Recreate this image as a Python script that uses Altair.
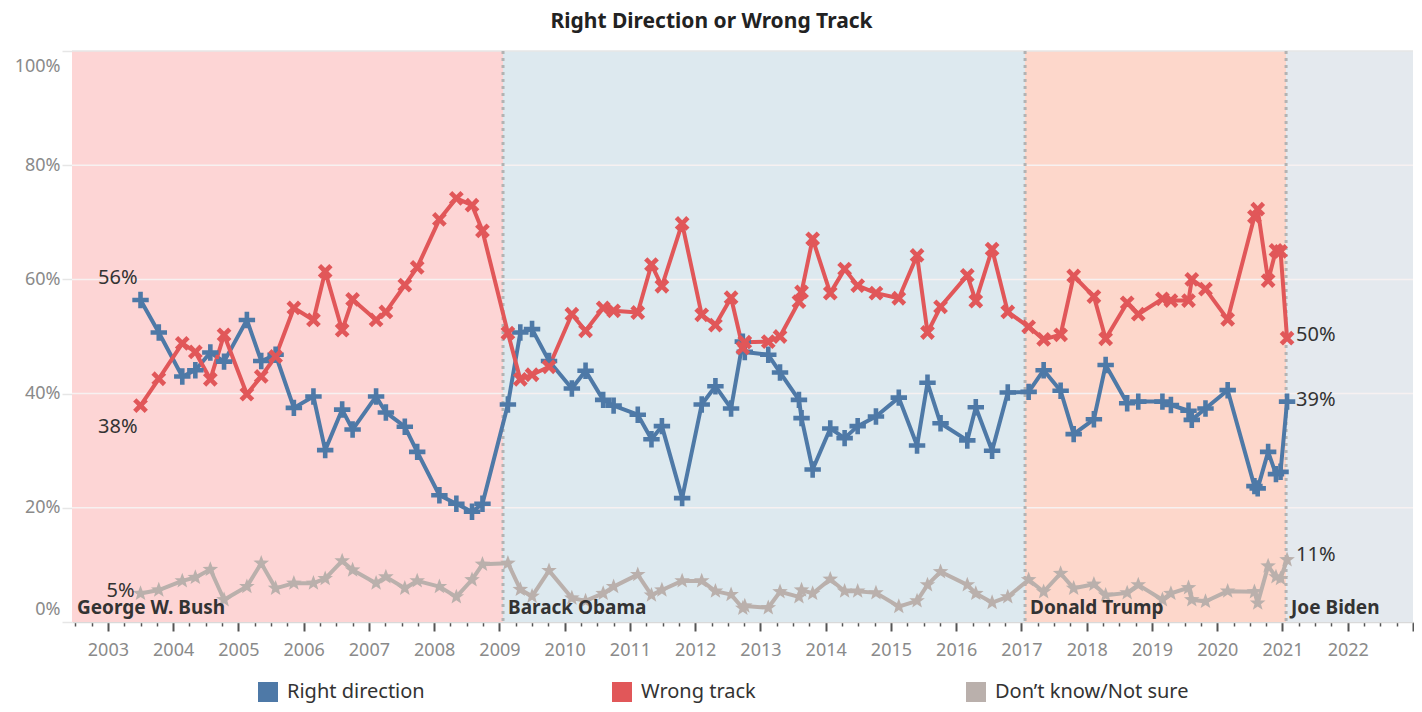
import altair as alt
import pandas as pd

# ---------------- data ----------------
dates = [
    2003.50, 2003.78, 2004.14, 2004.34, 2004.57, 2004.78, 2005.13, 2005.35, 2005.57, 2005.85,
    2006.15, 2006.33, 2006.59, 2006.75, 2007.11, 2007.26, 2007.55, 2007.74, 2008.08, 2008.34,
    2008.58, 2008.74,
    2009.13, 2009.32, 2009.50, 2009.76, 2010.11, 2010.32, 2010.59, 2010.75, 2011.12, 2011.33,
    2011.49, 2011.80, 2012.10, 2012.31, 2012.55, 2012.73, 2012.76, 2013.12, 2013.30, 2013.59,
    2013.63, 2013.80, 2014.07, 2014.29, 2014.49, 2014.77, 2015.12, 2015.40, 2015.56, 2015.76,
    2016.17, 2016.30, 2016.55, 2016.79,
    2017.11, 2017.34, 2017.60, 2017.80, 2018.11, 2018.29, 2018.62, 2018.79, 2019.16, 2019.29,
    2019.56, 2019.61, 2019.82, 2020.16, 2020.57, 2020.62, 2020.78, 2020.90, 2020.97, 2021.07,
]
right_direction = [
    56.4, 50.7, 43.0, 44.1, 47.2, 45.6, 52.9, 45.7, 46.8, 37.5,
    39.5, 30.1, 37.2, 33.7, 39.5, 36.7, 34.2, 29.8, 22.2, 20.7,
    19.3, 20.7,
    38.1, 50.7, 51.3, 45.7, 40.9, 44.0, 38.9, 37.9, 36.3, 32.0,
    34.3, 21.7, 38.1, 41.3, 37.4, 49.1, 47.3, 46.8, 43.7, 38.9,
    35.7, 26.7, 33.9, 32.2, 34.3, 36.0, 39.3, 30.9, 41.9, 34.8,
    31.8, 37.6, 30.0, 40.2,
    40.3, 44.1, 40.5, 32.9, 35.5, 45.0, 38.3, 38.6, 38.6, 38.0,
    37.0, 35.4, 37.4, 40.6, 23.8, 23.4, 29.8, 25.9, 26.3, 38.6,
]
wrong_track = [
    37.9, 42.6, 48.8, 47.3, 42.5, 50.3, 39.9, 43.0, 46.5, 55.0,
    52.9, 61.4, 51.1, 56.5, 52.9, 54.3, 59.0, 62.1, 70.5, 74.2,
    73.0, 68.5,
    50.6, 42.5, 43.3, 44.7, 53.9, 51.0, 55.0, 54.5, 54.2, 62.6,
    58.8, 69.8, 53.8, 52.0, 56.8, 48.0, 49.0, 49.1, 50.0, 56.1,
    57.8, 67.1, 57.6, 61.8, 58.9, 57.6, 56.7, 64.2, 50.7, 55.2,
    60.7, 56.2, 65.3, 54.3,
    51.7, 49.5, 50.3, 60.6, 57.0, 49.6, 55.9, 53.9, 56.6, 56.3,
    56.3, 60.0, 58.3, 53.0, 71.0, 72.3, 59.8, 65.1, 64.9, 49.7,
]
dont_know = [
    5.0, 5.6, 7.2, 7.8, 9.2, 3.9, 6.2, 10.3, 5.9, 6.8,
    6.8, 7.6, 10.7, 9.1, 6.8, 7.9, 5.9, 7.2, 6.2, 4.4,
    7.4, 10.1,
    10.3, 5.7, 4.5, 9.0, 4.2, 3.7, 5.0, 6.2, 8.3, 4.7,
    5.6, 7.2, 7.2, 5.4, 4.8, 2.4, 2.8, 2.5, 5.3, 4.4,
    5.6, 5.0, 7.5, 5.4, 5.4, 5.1, 2.7, 3.7, 6.5, 8.8,
    6.5, 5.0, 3.4, 4.4,
    7.4, 5.3, 8.5, 5.9, 6.6, 4.7, 5.1, 6.5, 3.9, 5.0,
    6.0, 3.9, 3.6, 5.4, 5.3, 3.3, 9.8, 7.9, 7.6, 10.9,
]

series_names = ["Right direction", "Wrong track", "Don\u2019t know/Not sure"]
series_colors = ["#4e79a7", "#e15759", "#bab0ac"]

presidents = ["George W. Bush", "Barack Obama", "Donald Trump", "Joe Biden"]
term_start = [2001.05, 2009.055, 2017.055, 2021.055]
term_end = [2009.055, 2017.055, 2021.055, 2025.055]
band_colors = ["#fdd5d5", "#dde9ef", "#fdd7cb", "#e4e9ee"]

x_min, x_max = 2002.45, 2023.0
y_ticks = [0, 20, 40, 60, 80, 100]
x_ticks = [2002.5 + 0.25 * i for i in range(int((x_max - 2002.5) / 0.25) + 1)]

# ---------------- tables ----------------
rows = []
for name, vals in zip(series_names, [right_direction, wrong_track, dont_know]):
    for d, v in zip(dates, vals):
        rows.append({"date": d, "value": v, "series": name})
df = pd.DataFrame(rows)

first = df.sort_values("date").groupby("series", sort=False).head(1).copy()
last = df.sort_values("date").groupby("series", sort=False).tail(1).copy()
for t in (first, last):
    t["label"] = t["value"].round().astype(int).astype(str) + "%"

pres = pd.DataFrame({
    "president": presidents,
    "start": term_start,
    "end": term_end,
    "label_x": [max(s, x_min) for s in term_start],
})
transitions = pres[pres["start"] > x_min]

FONT = "Noto Sans"
X_SCALE = alt.Scale(domain=[x_min, x_max], nice=False, zero=False)
Y_SCALE = alt.Scale(domain=[0, 100], nice=False)
COLOR_SCALE = alt.Scale(domain=series_names, range=series_colors)
X_AXIS = alt.Axis(
    values=x_ticks,
    labelExpr="datum.value % 1 === 0 && datum.value < 2023 ? '' + datum.value : ''",
    labelOverlap=False,
    grid=False,
    domainColor="#d9d9d9",
    domainWidth=1.5,
    tickColor="#555555",
    tickSize={"condition": {"test": "datum.value % 1 === 0", "value": 9}, "value": 4},
    tickWidth={"condition": {"test": "datum.value % 1 === 0", "value": 2}, "value": 1.5},
    labelPadding=10,
    labelFontSize=18,
    labelColor="#8a8a8a",
    labelFont=FONT,
    title=None,
)
Y_AXIS = alt.Axis(
    values=y_ticks,
    labelExpr="datum.value + '%'",
    grid=False,
    domain=False,
    tickColor="#e6e6e6",
    tickSize=10,
    tickWidth=1.5,
    labelPadding=2,
    labelFontSize=18,
    labelColor="#8a8a8a",
    labelFont=FONT,
    labelOffset={"condition": [{"test": "datum.value === 100", "value": 15},
                               {"test": "datum.value === 0", "value": -13}], "value": 0},
    title=None,
)
LEGEND = alt.Legend(
    title=None,
    orient="none",
    legendX=186,
    legendY=631,
    direction="horizontal",
    columns=3,
    gridAlign="all",
    columnPadding=131,
    symbolType="square",
    symbolSize=400,
    symbolStrokeWidth=0,
    symbolOpacity=1,
    labelFontSize=20,
    labelFont=FONT,
    labelColor="#333333",
    labelOffset=9,
    labelLimit=400,
)


def xq(field):
    return alt.X(field, type="quantitative", scale=X_SCALE, axis=X_AXIS)


def yq(field):
    return alt.Y(field, type="quantitative", scale=Y_SCALE, axis=Y_AXIS)


bands = alt.Chart(pres).mark_rect(clip=True).encode(
    x=xq("start"),
    x2="end",
    fill=alt.Fill("president:N", scale=alt.Scale(domain=presidents, range=band_colors), legend=None),
)

grid = alt.Chart(pd.DataFrame({"v": y_ticks[1:]})).mark_rule(strokeWidth=1.5).encode(
    y=yq("v"),
    stroke=alt.condition("datum.v === 100", alt.value("#e6e6e6"), alt.value("#f7f1f1")),
)

dividers = alt.Chart(transitions).mark_rule(
    strokeDash=[3, 4], strokeWidth=3, color="#b3b3b3"
).encode(x=xq("start"))

lines = alt.Chart(df).mark_line(strokeWidth=4, strokeJoin="round").encode(
    x=xq("date"),
    y=yq("value"),
    color=alt.Color("series:N", scale=COLOR_SCALE, legend=LEGEND),
    detail="series:N",
    order="date:Q",
)

PLUS = "M-1,-0.28H-0.28V-1H0.28V-0.28H1V0.28H0.28V1H-0.28V0.28H-1Z"
XSHAPE = ("M-0.9,-0.5L-0.5,-0.9L0,-0.4L0.5,-0.9L0.9,-0.5L0.4,0L0.9,0.5L0.5,0.9"
          "L0,0.4L-0.5,0.9L-0.9,0.5L-0.4,0Z")
STAR = ("M0,-1L0.25,-0.33L0.95,-0.31L0.4,0.12L0.59,0.81L0,0.42L-0.59,0.81"
        "L-0.4,0.12L-0.95,-0.31L-0.25,-0.33Z")

point_layers = []
for name, shape in zip(series_names, [PLUS, XSHAPE, STAR]):
    point_layers.append(
        alt.Chart(df[df["series"] == name]).mark_point(
            filled=True, opacity=1, size=270, shape=shape
        ).encode(
            x=xq("date"),
            y=yq("value"),
            color=alt.Color("series:N", scale=COLOR_SCALE, legend=LEGEND),
        )
    )

first_offsets = [(-3, -22), (-3, 21), (-6, -2)]
last_offsets = [(9, -2), (9, -3), (9, -5)]
label_layers = []
for name, (fdx, fdy), (ldx, ldy) in zip(series_names, first_offsets, last_offsets):
    label_layers.append(
        alt.Chart(first[first["series"] == name]).mark_text(
            align="right", baseline="middle", dx=fdx, dy=fdy, fontSize=20, font=FONT, color="#333333"
        ).encode(x=xq("date"), y=yq("value"), text="label:N")
    )
    label_layers.append(
        alt.Chart(last[last["series"] == name]).mark_text(
            align="left", baseline="middle", dx=ldx, dy=ldy, fontSize=20, font=FONT, color="#333333"
        ).encode(x=xq("date"), y=yq("value"), text="label:N")
    )

pres_labels = alt.Chart(pres).mark_text(
    align="left", baseline="alphabetic", dx=5, dy=-8, fontSize=19, fontWeight="bold", font=FONT, color="#333333"
).encode(x=xq("label_x"), y=alt.datum(0, type="quantitative", scale=Y_SCALE, axis=Y_AXIS), text="president:N")

chart = alt.layer(
    bands, grid, dividers, lines, *point_layers, *label_layers, pres_labels
).properties(
    width=1341,
    height=571,
    autosize=alt.AutoSizeParams(type="none"),
    padding={"left": 64, "top": 43, "right": 1, "bottom": 82},
    title=alt.Title(
        "Right Direction or Wrong Track",
        anchor="middle",
        dx=-31,
        offset=18,
        fontSize=21,
        fontWeight="bold",
        font=FONT,
        color="#222222",
    ),
).configure_view(stroke=None)

chart.save("out.html", embed_options={"renderer": "svg", "actions": False})
